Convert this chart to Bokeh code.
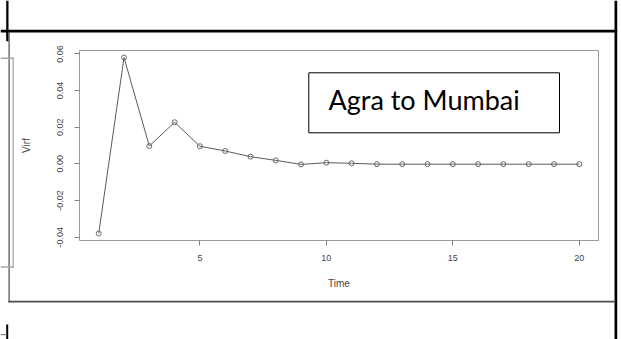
from bokeh.plotting import figure
from bokeh.models import BoxAnnotation, Label, FixedTicker, PrintfTickFormatter, Range1d
from bokeh.embed import file_html
from bokeh.resources import INLINE

# ---- data ----
time = list(range(1, 21))
virf = [-0.038, 0.058, 0.0097, 0.0227, 0.0096, 0.0070, 0.0039, 0.0019, -0.0003, 0.0006,
        0.0003, -0.0002, -0.0002, -0.0002, -0.0002, -0.0002, -0.0002, -0.0002, -0.0002, -0.0002]
x_ticks = [5, 10, 15, 20]
y_ticks = [-0.04, -0.02, 0.00, 0.02, 0.04, 0.06]
title_text = "Agra to Mumbai"

# R-style 4% range extension
def ext(vals):
    lo, hi = min(vals), max(vals)
    d = (hi - lo) * 0.04
    return lo - d, hi + d

X0, X1 = ext(time)
Y0, Y1 = ext(virf)

W, H = 621, 339
BL, BT = 79, 50
FW, FH = 519, 190
BR = W - BL - FW
BB = H - BT - FH

# ---- background: document table borders around the pasted image ----
bg = figure(width=W, height=H, output_backend="svg", toolbar_location=None,
            x_range=Range1d(0, W), y_range=Range1d(H, 0),
            x_axis_location=None, y_axis_location=None,
            min_border=0, min_border_left=0, min_border_right=0,
            min_border_top=0, min_border_bottom=0)
bg.grid.visible = False
bg.outline_line_color = None
bg.background_fill_color = "white"
bg.border_fill_color = "white"
bg.margin = (0, 0, -H, 0)

# black table rules
bg.quad(left=[5.7, 0, 614, 5.7], right=[8, 616.7, 616.7, 7.7],
        top=[0, 29.3, 0, 324], bottom=[40.7, 32, H, H],
        fill_color="black", line_color=None)
# frame of the pasted image
bg.quad(left=[8, 8], right=[9.2, 614], top=[32, 300.3], bottom=[302, 302],
        fill_color="#4d4d4d", line_color=None)
# neighbouring picture edge on the left
bg.quad(left=[12, 0, 0], right=[13.3, 13.3, 13.3], top=[57, 57, 265.8], bottom=[267.3, 58.5, 267.3],
        fill_color="#a8a8a8", line_color=None)
bg.quad(left=[0], right=[6], top=[333.5], bottom=[334.8], fill_color="#8a8a8a", line_color=None)

# ---- the R plot ----
p = figure(width=W, height=H, output_backend="svg", toolbar_location=None,
           x_range=Range1d(X0, X1), y_range=Range1d(Y0, Y1),
           min_border_left=BL, min_border_right=BR, min_border_top=BT, min_border_bottom=BB)
p.background_fill_color = "white"
p.border_fill_alpha = 0
p.outline_line_color = "#9a9a9a"
p.outline_line_width = 1
p.grid.visible = False

p.line(time, virf, line_color="#5a5a5a", line_width=1)
p.scatter(time, virf, size=5, marker="circle", fill_color=None, line_color="#6a6a6a", line_width=1)

for ax in (p.xaxis[0], p.yaxis[0]):
    ax.axis_line_color = None
    ax.major_tick_in = 0
    ax.major_tick_out = 5
    ax.major_tick_line_color = "#808080"
    ax.minor_tick_line_color = None
    ax.major_label_text_font = "Liberation Sans"
    ax.major_label_text_font_size = "9px"
    ax.major_label_text_color = "#444444"
    ax.axis_label_text_font = "Liberation Sans"
    ax.axis_label_text_font_size = "10px"
    ax.axis_label_text_font_style = "normal"
    ax.axis_label_text_color = "#444444"

p.xaxis.ticker = FixedTicker(ticks=x_ticks)
p.yaxis.ticker = FixedTicker(ticks=y_ticks)
p.yaxis.formatter = PrintfTickFormatter(format="%.2f")
p.yaxis.major_label_orientation = "vertical"
p.xaxis.major_label_standoff = 9
p.yaxis.major_label_standoff = 11
p.xaxis.axis_label = "Time"
p.yaxis.axis_label = "Virf"
p.xaxis.axis_label_standoff = 14
p.yaxis.axis_label_standoff = 23

# page pixel -> data helpers for the pasted text box
KX = FW / (X1 - X0)
KY = FH / (Y1 - Y0)
def dx(px):
    return X0 + (px - BL) / KX
def dy(py):
    return Y1 - (py - BT) / KY

p.add_layout(BoxAnnotation(left=dx(308.3), right=dx(559), top=dy(72.3), bottom=dy(132.3),
                           fill_color="white", fill_alpha=1.0, line_color="black",
                           line_alpha=1.0, line_width=1))
p.add_layout(Label(x=dx(328), y=dy(98.5), text=title_text, text_font="Lato",
                   text_font_size="27px", text_baseline="alphabetic", text_color="black"))

open("out.html", "w").write(file_html([bg, p], INLINE))
